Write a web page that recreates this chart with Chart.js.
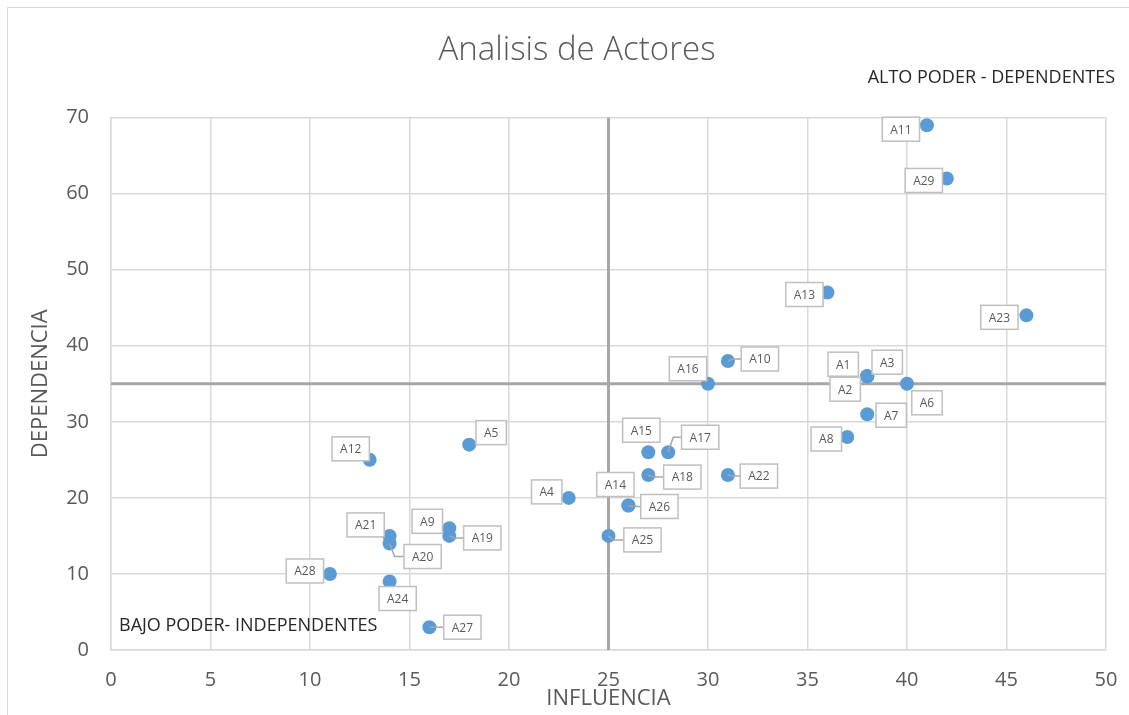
<!DOCTYPE html>
<html lang="es">
<head>
    <meta charset="UTF-8">
    <title>Analisis de Actores</title>
    <script src="https://cdn.jsdelivr.net/npm/chart.js"></script>
    <style>
        html, body { margin: 0; padding: 0; background: #fff; overflow: hidden; }
        .chart-box {
            position: absolute;
            left: 7px;
            top: 7px;
            width: 1140px;
            height: 720px;
            box-sizing: border-box;
            border: 1px solid #d9d9d9;
        }
    </style>
</head>
<body>
    <div class="chart-box">
        <canvas id="actorsChart"></canvas>
    </div>

    <script>
        // Actores: influencia (x) y dependencia (y)
        const actors = ['A1', 'A2', 'A3', 'A4', 'A5', 'A6', 'A7', 'A8', 'A9', 'A10',
            'A11', 'A12', 'A13', 'A14', 'A15', 'A16', 'A17', 'A18', 'A19', 'A20',
            'A21', 'A22', 'A23', 'A24', 'A25', 'A26', 'A27', 'A28', 'A29'];
        const influencia = [38, 38, 38, 23, 18, 40, 38, 37, 17, 31,
            41, 13, 36, 26, 27, 30, 28, 27, 17, 14,
            14, 31, 46, 14, 25, 26, 16, 11, 42];
        const dependencia = [36, 36, 36, 20, 27, 35, 31, 28, 16, 38,
            69, 25, 47, 19, 26, 35, 26, 23, 15, 14,
            15, 23, 44, 9, 15, 19, 3, 10, 62];

        // ejes y cuadrantes
        const xTicks = [0, 5, 10, 15, 20, 25, 30, 35, 40, 45, 50];
        const yTicks = [0, 10, 20, 30, 40, 50, 60, 70];
        const crossX = 25;   // corte de influencia
        const crossY = 35;   // corte de dependencia
        const quadrantLabels = ['ALTO PODER - DEPENDENTES', 'BAJO PODER- INDEPENDENTES'];

        const xMin = xTicks[0], xMax = xTicks[xTicks.length - 1];
        const yMin = yTicks[0], yMax = yTicks[yTicks.length - 1];

        // where each data label box sits relative to its marker (px)
        const labelOffset = {
            A1: [-24, -12], A2: [-22, 13], A3: [20, -14], A4: [-22, -6], A5: [22, -12],
            A6: [20, 19], A7: [24, 1], A8: [-21, 2], A9: [-22, -7], A10: [32, -2],
            A11: [-26, 4], A12: [-19, -11], A13: [-23, 2], A14: [-13, -21], A15: [-7, -22],
            A16: [-20, -15], A17: [32, -15], A18: [34, 2], A19: [33, 2], A20: [33, 13],
            A21: [-24, -11], A22: [31, 1], A23: [-27, 2], A24: [8, 17], A25: [34, 4],
            A26: [31, 1], A27: [33, 0], A28: [-25, -3], A29: [-23, 2]
        };

        const FONT = "'Open Sans', 'DejaVu Sans', sans-serif";
        const GREY = '#595959';

        const dataLabels = {
            id: 'dataLabels',
            afterDatasetsDraw(chart) {
                const ctx = chart.ctx;
                const meta = chart.getDatasetMeta(0);
                ctx.save();
                ctx.font = '12px ' + FONT;
                ctx.textAlign = 'center';
                ctx.textBaseline = 'middle';
                meta.data.forEach((pt, i) => {
                    const name = actors[i];
                    const off = labelOffset[name] || [20, -12];
                    const cx = pt.x + off[0];
                    const cy = pt.y + off[1];
                    const w = ctx.measureText(name).width + 16;
                    const h = 24;
                    // leader line for labels pushed far to the right
                    if (off[0] >= 30) {
                        ctx.strokeStyle = '#a6a6a6';
                        ctx.lineWidth = 1.5;
                        ctx.beginPath();
                        ctx.moveTo(pt.x, pt.y);
                        ctx.lineTo(pt.x + 5, cy);
                        ctx.lineTo(cx - w / 2, cy);
                        ctx.stroke();
                    }
                    ctx.fillStyle = '#fff';
                    ctx.fillRect(cx - w / 2, cy - h / 2, w, h);
                    ctx.strokeStyle = '#bfbfbf';
                    ctx.lineWidth = 1.5;
                    ctx.strokeRect(cx - w / 2, cy - h / 2, w, h);
                    ctx.fillStyle = GREY;
                    ctx.fillText(name, cx, cy + 1);
                });

                // quadrant captions
                const area = chart.chartArea;
                ctx.font = '18px ' + FONT;
                ctx.fillStyle = '#262626';
                ctx.textAlign = 'right';
                ctx.fillText(quadrantLabels[0], area.right + 9, area.top - 40);
                ctx.textAlign = 'left';
                ctx.fillText(quadrantLabels[1], area.left + 8, area.bottom - 24);
                ctx.restore();
            }
        };

        const ctx = document.getElementById('actorsChart').getContext('2d');
        const actorsChart = new Chart(ctx, {
            type: 'scatter',
            data: {
                datasets: [
                    {
                        label: 'Actores',
                        data: actors.map((a, i) => ({ x: influencia[i], y: dependencia[i] })),
                        backgroundColor: '#5b9bd5',
                        borderWidth: 0,
                        pointRadius: 7,
                        pointHoverRadius: 7,
                        order: 1
                    },
                    {
                        label: 'corte x',
                        type: 'line',
                        data: [{ x: crossX, y: yMin }, { x: crossX, y: yMax }],
                        borderColor: '#a6a6a6',
                        borderWidth: 3,
                        pointRadius: 0,
                        order: 2
                    },
                    {
                        label: 'corte y',
                        type: 'line',
                        data: [{ x: xMin, y: crossY }, { x: xMax, y: crossY }],
                        borderColor: '#a6a6a6',
                        borderWidth: 3,
                        pointRadius: 0,
                        order: 2
                    }
                ]
            },
            options: {
                responsive: true,
                maintainAspectRatio: false,
                animation: false,
                layout: { padding: { left: 40, right: 40, top: 0, bottom: 0 } },
                plugins: {
                    legend: { display: false },
                    tooltip: { enabled: false },
                    title: {
                        display: true,
                        text: 'Analisis de Actores',
                        color: GREY,
                        font: { family: FONT, size: 33, weight: '300' },
                        padding: { top: 23, bottom: 47 }
                    }
                },
                scales: {
                    x: {
                        type: 'linear',
                        min: xMin,
                        max: xMax,
                        afterFit: (scale) => { scale.height = 76; },
                        afterBuildTicks: (scale) => { scale.ticks = xTicks.map(v => ({ value: v })); },
                        grid: { color: '#d9d9d9', lineWidth: 1.5, drawTicks: false },
                        border: { color: '#d9d9d9', width: 1.5 },
                        ticks: { color: GREY, font: { family: FONT, size: 20 }, padding: 18 },
                        title: {
                            display: true,
                            text: 'INFLUENCIA',
                            color: GREY,
                            font: { family: FONT, size: 22 },
                            padding: { top: 0, bottom: 14 }
                        }
                    },
                    y: {
                        type: 'linear',
                        min: yMin,
                        max: yMax,
                        afterFit: (scale) => { scale.width = 63; },
                        afterBuildTicks: (scale) => { scale.ticks = yTicks.map(v => ({ value: v })); },
                        grid: { color: '#d9d9d9', lineWidth: 1.5, drawTicks: false },
                        border: { color: '#d9d9d9', width: 1.5 },
                        ticks: { color: GREY, font: { family: FONT, size: 20 }, padding: 22 },
                        title: {
                            display: true,
                            text: 'DEPENDENCIA',
                            color: GREY,
                            font: { family: FONT, size: 22 },
                            padding: { top: -20, bottom: 0 }
                        }
                    }
                }
            },
            plugins: [dataLabels]
        });
    </script>
</body>
</html>
